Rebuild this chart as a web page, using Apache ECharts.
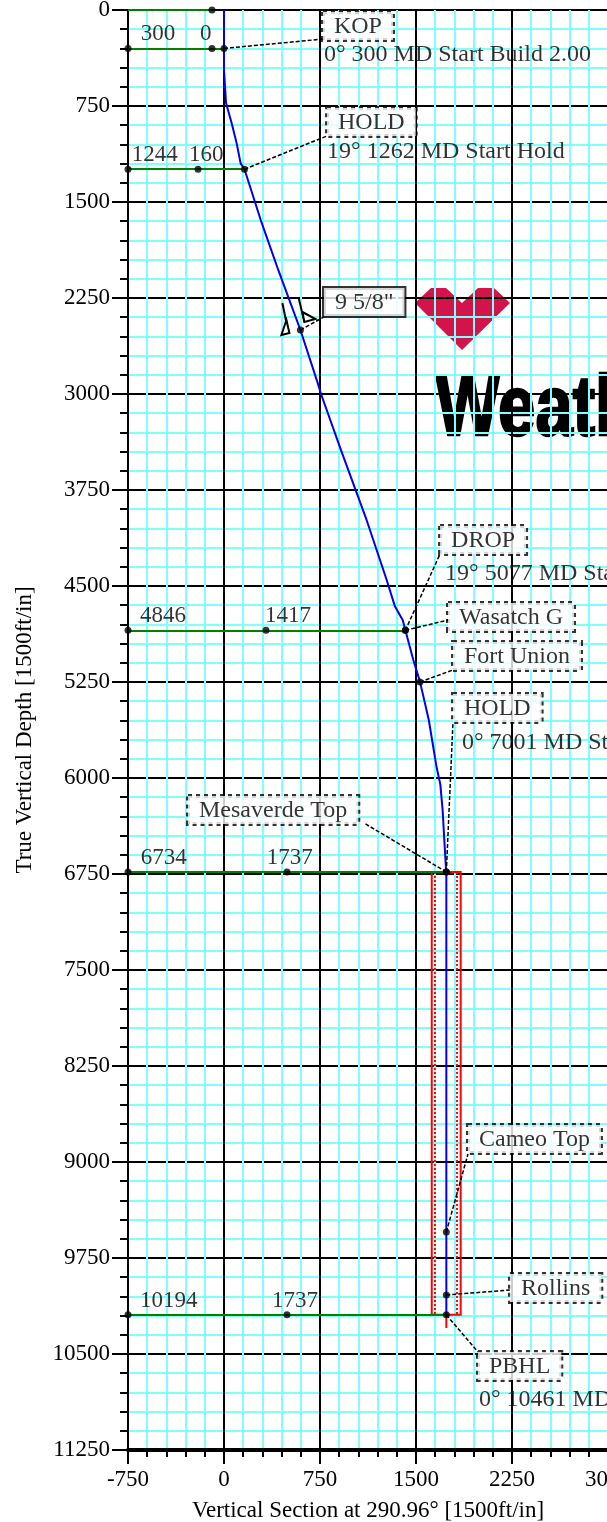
<!DOCTYPE html>
<html><head><meta charset="utf-8">
<script src="https://cdn.jsdelivr.net/npm/echarts@6/dist/echarts.min.js"></script>
<style>html,body{margin:0;padding:0;background:#fff}#c{width:607px;height:1522px}</style>
</head><body><div id="c"></div>
<script>
// ---------------- data ----------------
const xTickLabels = [-750, 0, 750, 1500, 2250, 3000];
const yTickLabels = [0, 750, 1500, 2250, 3000, 3750, 4500, 5250, 6000, 6750, 7500, 8250, 9000, 9750, 10500, 11250];

// well path (Vertical Section, TVD)
const trajVS  = [0, 0, 0, 16, 60, 99, 130, 160, 287, 424, 506, 597, 733, 758, 914, 1114, 1271, 1336, 1396, 1417, 1479, 1531, 1600, 1660, 1690, 1708, 1722, 1734, 1737, 1737];
const trajTVD = [0, 300, 469, 727, 885, 1042, 1198, 1244, 1641, 2031, 2253, 2500, 2917, 3000, 3438, 3984, 4453, 4661, 4766, 4846, 5078, 5247, 5547, 5911, 6050, 6250, 6500, 6700, 6734, 10194];

// section rows (TVD / VS readouts with green lines)
const rowTVD   = [0, 300, 1244, 4846, 6734, 10194];
const rowVS    = [null, 0, 160, 1417, 1737, 1737];
const rowEndVS = [-94, 0, 160, 1417, 1737, 1737];
const rowMidVS = [-94, -94, -203, 328, 492, 492];

// annotations
const annNames = ['KOP', 'HOLD', '9 5/8"', 'DROP', 'Wasatch G', 'Fort Union', 'HOLD', 'Mesaverde Top', 'Cameo Top', 'Rollins', 'PBHL'];
const annVS    = [0, 160, 597, 1417, 1417, 1531, 1737, 1737, 1737, 1737, 1737];
const annTVD   = [300, 1244, 2500, 4846, 4846, 5250, 6734, 6734, 9547, 10039, 10194];
const stepText = ['0° 300 MD Start Build 2.00', '19° 1262 MD Start Hold', '19° 5077 MD Start Drop 1.00', '0° 7001 MD Start Hold', '0° 10461 MD at 10194 TVD'];

// target (red box) around the lower hole
const targetVS    = [1623, 1849];
const targetInner = [1648, 1820];
const targetTVD   = [6734, 10194];

// ---------------- layout (positions of the labels, in axis units) ----------------
const layout = {
  rowTvdLabelX: [null, -651, -721, -656, -651, -656],
  rowVsLabelX:  [null, -188, -273, 320, 334, 375],
  boxVS:   [773, 805, 781, 1688, 1750, 1789, 1789, -281, 1906, 2234, 1984],
  boxTVD:  [16, 766, 2172, 4031, 4633, 4938, 5344, 6141, 8711, 9875, 10484],
  leadVS:  [773, 805, 781, 1688, 1750, 1789, 1789, 1094, 1906, 2234, 1984],
  leadTVD: [227, 984, 2398, 4250, 4766, 5156, 5563, 6352, 8938, 10000, 10484],
  stepVS:  [781, 805, 1727, 1859, 1992],
  stepTVD: [352, 1109, 4406, 5727, 10859]
};

const FONT = "'Liberation Serif','Times New Roman',serif";
const chart = echarts.init(document.getElementById('c'), null, {renderer: 'canvas'});

const trajData = trajVS.map((v, i) => [v, trajTVD[i]]);
const greenLines = rowTVD.map((t, i) => ({coords: [[-750, t], [rowEndVS[i], t]]}));
const rowLabelData = [];
rowTVD.forEach((t, i) => {
  if (rowVS[i] === null) return;
  rowLabelData.push({value: [layout.rowTvdLabelX[i], t], name: String(t)});
  rowLabelData.push({value: [layout.rowVsLabelX[i], t], name: String(rowVS[i])});
});
const dotData = [];
rowTVD.forEach((t, i) => {
  if (i > 0) dotData.push([-750, t]);
  dotData.push([rowMidVS[i], t]);
});
annVS.forEach((v, i) => dotData.push([v, annTVD[i]]));

const leaderLines = annNames.map((n, i) => ({coords: [[annVS[i], annTVD[i]], [layout.leadVS[i], layout.leadTVD[i]]]}));
const boxData = annNames.map((n, i) => {
  const d = {value: [layout.boxVS[i], layout.boxTVD[i]], name: n};
  if (n.indexOf('/') > 0) d.label = {borderType: 'solid', borderWidth: 2};
  return d;
});
const stepData = stepText.map((s, i) => ({value: [layout.stepVS[i], layout.stepTVD[i]], name: s}));

const redSolid = [
  {coords: [[targetVS[0], targetTVD[0]], [targetVS[1], targetTVD[0]], [targetVS[1], targetTVD[1]], [targetVS[0], targetTVD[1]], [targetVS[0], targetTVD[0]]]},
  {coords: [[trajVS[trajVS.length-1], targetTVD[1]], [trajVS[trajVS.length-1], targetTVD[1] + 103]]}
];
const redDotted = [
  {coords: [[targetInner[0], targetTVD[0]], [targetInner[0], targetTVD[1]]]},
  {coords: [[targetInner[1], targetTVD[0]], [targetInner[1], targetTVD[1]]]}
];

const plain = v => String(v);

const option = {
  animation: false,
  backgroundColor: '#fff',
  grid: {left: 128, right: -1, top: 10, bottom: 72, containLabel: false, outerBoundsMode: 'none'},
  xAxis: {
    type: 'value', min: -750, max: 3000, interval: 750,
    name: 'Vertical Section at 290.96° [1500ft/in]', nameLocation: 'middle', nameGap: 49,
    nameTextStyle: {fontFamily: FONT, fontSize: 23, color: '#000'},
    axisLine: {show: true, onZero: false, lineStyle: {color: '#000', width: 4}},
    axisTick: {show: true, length: 14, lineStyle: {color: '#000', width: 2}},
    minorTick: {show: true, splitNumber: 5, length: 7, lineStyle: {color: '#000', width: 2}},
    axisLabel: {fontFamily: FONT, fontSize: 23, color: '#000', margin: 18, formatter: plain},
    splitLine: {show: true, lineStyle: {color: '#000', width: 2}},
    minorSplitLine: {show: true, lineStyle: {color: '#80ffff', width: 2}}
  },
  yAxis: {
    type: 'value', min: 0, max: 11250, interval: 750, inverse: true,
    name: 'True Vertical Depth [1500ft/in]', nameLocation: 'middle', nameGap: 92,
    nameTextStyle: {fontFamily: FONT, fontSize: 23, color: '#000'},
    axisLine: {show: true, onZero: false, lineStyle: {color: '#000', width: 2}},
    axisTick: {show: true, length: 16, lineStyle: {color: '#000', width: 2}},
    minorTick: {show: true, splitNumber: 5, length: 8, lineStyle: {color: '#000', width: 2}},
    axisLabel: {fontFamily: FONT, fontSize: 23, color: '#000', margin: 18, padding: [9, 0, 0, 0], formatter: plain},
    splitLine: {show: true, lineStyle: {color: '#000', width: 2}},
    minorSplitLine: {show: true, lineStyle: {color: '#80ffff', width: 2}}
  },
  series: [
    {type: 'lines', coordinateSystem: 'cartesian2d', polyline: true, silent: true, z: 3,
     lineStyle: {color: '#ff0000', width: 2, opacity: 1}, data: redSolid},
    {type: 'lines', coordinateSystem: 'cartesian2d', polyline: true, silent: true, z: 3,
     lineStyle: {color: '#ff0000', width: 2, type: [2, 2], opacity: 1}, data: redDotted},
    {type: 'lines', coordinateSystem: 'cartesian2d', silent: true, z: 4,
     lineStyle: {color: '#008000', width: 2, opacity: 1}, data: greenLines},
    {type: 'line', data: trajData, showSymbol: false, z: 5, silent: true,
     lineStyle: {color: '#0000ee', width: 2}},
    {type: 'lines', coordinateSystem: 'cartesian2d', silent: true, z: 6,
     lineStyle: {color: '#000', width: 1.5, type: [4, 2], opacity: 1}, data: leaderLines},
    {type: 'scatter', data: dotData, symbol: 'circle', symbolSize: 7, z: 7, silent: true,
     itemStyle: {color: '#000'}},
    {type: 'custom', z: 7, silent: true, data: [[annVS[2], annTVD[2]]],
     renderItem: function (params, api) {
       const p = api.coord([api.value(0), api.value(1)]);
       const st = {stroke: '#000', lineWidth: 2, fill: null};
       return {type: 'group', children: [
         {type: 'polyline', shape: {points: [[p[0]-18, p[1]-27], [p[0]-12, p[1]+3]]}, style: st},
         {type: 'polygon', shape: {points: [[p[0]-14, p[1]-10], [p[0]-19, p[1]+5], [p[0]-11, p[1]+3]]}, style: {stroke: '#000', lineWidth: 2, fill: '#fff'}},
         {type: 'polyline', shape: {points: [[p[0]-2, p[1]-33], [p[0]+4, p[1]-8]]}, style: st},
         {type: 'polygon', shape: {points: [[p[0]+2, p[1]-18], [p[0]+4, p[1]-8], [p[0]+15, p[1]-11]]}, style: {stroke: '#000', lineWidth: 2, fill: '#fff'}}
       ]};
     }},
    {type: 'scatter', data: rowLabelData, symbolSize: 0, z: 8, silent: true,
     label: {show: true, position: [0, 0], align: 'left', verticalAlign: 'middle', offset: [0, -14],
       formatter: p => p.name, fontFamily: FONT, fontSize: 23, color: '#000'}},
    {type: 'scatter', data: stepData, symbolSize: 0, z: 8, silent: true,
     label: {show: true, position: [0, 0], align: 'left', verticalAlign: 'middle',
       formatter: p => p.name, fontFamily: FONT, fontSize: 24, color: '#000'}},
    {type: 'scatter', data: boxData, symbolSize: 0, z: 9, silent: true,
     label: {show: true, position: [0, 0], align: 'left', verticalAlign: 'top',
       formatter: p => p.name, fontFamily: FONT, fontSize: 24, lineHeight: 24, color: '#000',
       backgroundColor: '#fff', borderColor: '#000', borderWidth: 2, borderType: 'dotted',
       padding: [3, 11, 1, 11]}}
  ],
  graphic: [
    {type: 'group', z: 100, silent: true, children: [
      {type: 'rect', shape: {x: 413, y: 280, width: 200, height: 164}, style: {fill: '#fff', stroke: null, lineWidth: 0}},
      {type: 'polygon', shape: {points: [[415, 303], [431, 288], [446, 288], [462, 303], [478, 288], [494, 288], [510, 303], [462, 350]]}, style: {fill: '#d2144a', stroke: null, lineWidth: 0}},
      {type: 'text', x: 436, y: 368, scaleX: 0.78, style: {text: 'Weatherford', fontSize: 86, fontWeight: 'bold', fontFamily: '"Liberation Sans", Arial, sans-serif', fill: '#000', stroke: '#000', lineWidth: 2.5, verticalAlign: 'top'}}
    ]}
  ]
};
chart.setOption(option);
</script>
</body></html>
